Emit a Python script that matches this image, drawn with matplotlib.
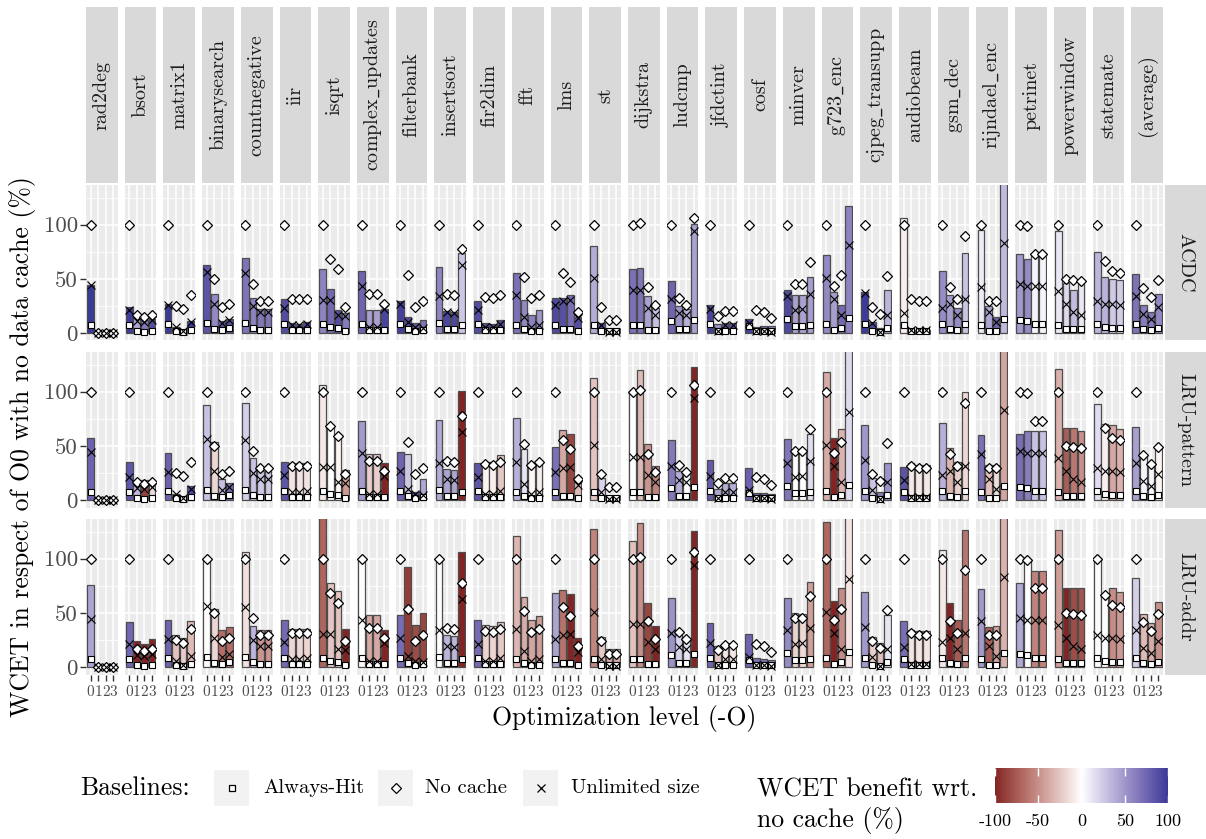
import numpy as np
import matplotlib
matplotlib.use("Agg")
import matplotlib.pyplot as plt
from matplotlib.colors import ListedColormap, Normalize, to_rgb
from matplotlib.patches import Rectangle
from matplotlib.cm import ScalarMappable

plt.rcParams['font.family'] = ['cmr10', 'DejaVu Serif']
plt.rcParams['axes.unicode_minus'] = False
plt.rcParams['mathtext.fontset'] = 'cm'

benchmarks = ['rad2deg', 'bsort', 'matrix1', 'binarysearch', 'countnegative', 'iir',
              'isqrt', 'complex_updates', 'filterbank', 'insertsort', 'fir2dim', 'fft',
              'lms', 'st', 'dijkstra', 'ludcmp', 'jfdctint', 'cosf', 'minver', 'g723_enc',
              'cjpeg_transupp', 'audiobeam', 'gsm_dec', 'rijndael_enc', 'petrinet',
              'powerwindow', 'statemate']
levels = ['0', '1', '2', '3']
policies = ['ACDC', 'LRU-pattern', 'LRU-addr']

# WCET in % of the O0 no-cache WCET, one row per benchmark, columns O0..O3
no_cache = np.array([
    [100, 0.8, 0.8, 0.8], [100, 17, 14.8, 17], [100, 25, 22.4, 35.2],
    [100, 49.7, 24.6, 27.2], [100, 45, 29.5, 29.5], [100, 31.3, 31.3, 31.3],
    [100, 68.2, 59.3, 24.3], [100, 36, 36, 27], [100, 53.7, 24, 29.4],
    [100, 36, 35, 77.7], [100, 33.5, 33, 35.4], [100, 51.7, 33, 35.2],
    [100, 55.2, 47.3, 20], [100, 24, 12.6, 12.6], [100, 101.5, 43, 26.5],
    [100, 32.3, 26.2, 106.5], [100, 16.3, 21, 21], [100, 21.2, 19.4, 14],
    [100, 45.8, 45.5, 65.8], [100, 43.7, 53.6, 170], [100, 24.4, 18, 52.5],
    [100, 31.5, 30, 30], [100, 42.7, 31.9, 90], [100, 29.8, 29.8, 178],
    [100, 99.1, 72.8, 72.8], [100, 50, 49, 48.2], [100, 66.9, 57.6, 55.7]])

unlimited = np.array([
    [44.5, 0.6, 0.6, 0.6], [22, 11, 10.5, 12.5], [26.5, 6.2, 2, 10.8],
    [56.2, 26.7, 9.2, 12], [55.5, 25, 19.5, 19.5], [23, 8, 7.8, 9],
    [31, 31, 17.2, 16], [43.8, 5.6, 5.6, 22.5], [27, 10.8, 6, 4.8],
    [34.2, 19.5, 18.5, 63], [21.7, 6, 6, 9], [35, 14.8, 6.2, 7.6],
    [26.3, 29.6, 31, 14.3], [51, 7.7, 1.5, 1.5], [40.4, 40, 23.5, 16.6],
    [31.7, 18.6, 17, 94.3], [22.4, 2, 8, 8], [9.7, 2.5, 2.5, 1.3],
    [34.5, 22, 22.3, 36.2], [51, 32.1, 16.6, 81], [37.5, 9.3, 1.5, 16.9],
    [18.7, 2.8, 2.8, 2.8], [23, 26.8, 16.7, 31.3], [43, 19.5, 10.5, 83.3],
    [45, 43.7, 43.7, 43.7], [39, 27.2, 20, 16.8], [29.6, 26.8, 27.5, 26.4]])

always_hit = np.array([
    [8, 0.4, 0.4, 0.4], [8, 2, 1.5, 2], [8.3, 2, 1.3, 3], [9.5, 4, 2.7, 4.8],
    [9.8, 5.2, 3, 3], [8.8, 3, 3, 3], [8.6, 6, 5.2, 2.5], [8.6, 3, 3, 3.3],
    [8.3, 4.3, 1.8, 3], [10, 3.8, 3.8, 7.8], [8.6, 3.3, 3, 3], [7.9, 4, 2.5, 2.5],
    [8.2, 4.5, 3.8, 1.8], [7.7, 2.5, 1.8, 1.8], [7.8, 7.8, 3.3, 2.8],
    [11.5, 4.3, 4, 12], [8.5, 1.8, 1.8, 1.8], [6.6, 1.8, 1.8, 1.8],
    [13, 6.8, 6.8, 7.8], [8.4, 3.6, 4.7, 14], [8.4, 2, 1, 4.8], [7.9, 2, 2, 2],
    [8.9, 3.8, 3, 8.3], [7.8, 2.5, 2.3, 13.3], [12, 11.2, 8.5, 8.5],
    [7.9, 3.8, 3.8, 3.8], [8.5, 5.5, 4.8, 4.8]])

wcet_acdc = np.array([
    [44.5, 0.8, 0.8, 0.8], [24, 14.5, 12, 13], [27, 6, 3, 11], [63, 36.7, 11.4, 13.6],
    [69.8, 33, 22.8, 22.8], [31.5, 9.6, 9, 10.5], [59, 40.7, 22, 19],
    [57.4, 22, 22, 22.8], [30, 15, 9.6, 12.7], [61.4, 20.7, 19.8, 73.8],
    [30, 9.6, 9, 12], [55.2, 30.6, 16.7, 21.3], [33, 33, 35.8, 15],
    [80.6, 9.6, 3.7, 3.7], [59, 60, 34.3, 23.5], [48.5, 25.3, 22.8, 101],
    [26.5, 9, 10, 10], [13.6, 6, 6.8, 6.8], [40.4, 35.2, 35.2, 52],
    [72.2, 38.3, 26.5, 117], [38.3, 10.5, 5, 39.8], [106, 3, 3, 3],
    [57.4, 35.2, 23.5, 73.8], [94.8, 25.3, 15, 147], [73, 68.2, 71.3, 71.3],
    [93.8, 46, 39.8, 45], [75.3, 52.2, 50, 49]])

wcet_lru_pattern = np.array([
    [57.5, 0.8, 0.8, 0.8], [35, 15, 18.5, 17.7], [43.5, 5.6, 3, 13],
    [87.6, 53.7, 20, 16], [90, 39.4, 27, 27], [35.7, 34, 34, 34],
    [106.5, 68.3, 61.2, 28], [73, 42.5, 42.5, 34], [44.4, 42.5, 7.8, 19.3],
    [73.6, 28.9, 28, 101], [34, 35, 35, 42], [76, 47.2, 34, 37.3],
    [48.8, 65.2, 61.2, 21.7], [112.7, 20.8, 4, 4], [100, 120, 52.2, 32],
    [55.3, 27, 26.4, 122.7], [37.3, 10.2, 16.1, 16.1], [30, 7, 6.8, 5.6],
    [56.5, 45.7, 45.7, 61.2], [118, 57.5, 65.8, 155], [69, 20.2, 7.8, 34],
    [31, 34, 32.6, 32.6], [71.4, 48, 35, 100], [60.6, 32.6, 32.6, 215],
    [61.2, 64.3, 64.3, 64.3], [121, 66.8, 66.8, 63.7], [88.5, 70, 69.3, 65.8]])

wcet_lru_addr = np.array([
    [75.8, 0.8, 0.8, 0.8], [41.6, 23.9, 21.4, 26.4], [44, 30, 27, 42.5],
    [100.6, 54, 34.8, 37.3], [106, 38, 34.2, 34.2], [44, 35.4, 35.4, 35.4],
    [148, 77.6, 70.2, 35.4], [100.6, 47.8, 47.8, 34.2], [47.8, 92.2, 38.8, 50.3],
    [100, 30.1, 29.2, 106], [43.5, 38.8, 37.9, 41.6], [121, 65, 43.5, 47.2],
    [68, 71.4, 67.4, 27], [127, 28, 16.8, 16.8], [116, 132.6, 59.6, 37.9],
    [64.3, 29.5, 25, 125.8], [41, 19.9, 22.4, 22.4], [31, 8.4, 7.8, 6.8],
    [63.4, 50.3, 49.4, 78.3], [134, 61, 72.7, 180], [69.6, 27.6, 22.4, 48.1],
    [42.5, 34.8, 33.2, 33.2], [107.8, 59.6, 43.2, 126.4], [72, 37.3, 37.9, 210],
    [77.6, 99.4, 89, 89], [126.4, 72.7, 72.7, 72.7], [98.4, 67.4, 73, 69]])


def benefit(wcet):
    # share of the unlimited-cache gain over no cache that is reached
    span = no_cache - unlimited
    b = np.where(np.abs(span) > 1e-9, 100 * (no_cache - wcet) / np.where(span == 0, 1, span), 0)
    return np.clip(b, -100, 100)


# diverging fill as in ggplot's gradient2 (muted red / white / muted blue, Lab space)
M_RGB = np.array([[0.4124, 0.3576, 0.1805], [0.2126, 0.7152, 0.0722], [0.0193, 0.1192, 0.9505]])
WHITE = np.array([0.95047, 1.0, 1.08883])


def to_lab(col):
    rgb = np.array(to_rgb(col))
    lin = np.where(rgb <= 0.04045, rgb / 12.92, ((rgb + 0.055) / 1.055) ** 2.4)
    xyz = M_RGB @ lin / WHITE
    f = np.where(xyz > 0.008856, np.cbrt(xyz), 7.787 * xyz + 16 / 116)
    return np.array([116 * f[1] - 16, 500 * (f[0] - f[1]), 200 * (f[1] - f[2])])


def from_lab(lab):
    fy = (lab[:, 0] + 16) / 116
    f = np.stack([fy + lab[:, 1] / 500, fy, fy - lab[:, 2] / 200], axis=1)
    xyz = np.where(f ** 3 > 0.008856, f ** 3, (f - 16 / 116) / 7.787) * WHITE
    lin = np.clip(xyz @ np.linalg.inv(M_RGB).T, 0, 1)
    return np.where(lin <= 0.0031308, 12.92 * lin, 1.055 * lin ** (1 / 2.4) - 0.055)


low, mid, high = to_lab('#832424'), to_lab('#FFFFFF'), to_lab('#3A3A98')
t = np.linspace(0, 1, 256)[:, None]
lab = np.where(t < 0.5, low + (mid - low) * (t / 0.5), mid + (high - mid) * ((t - 0.5) / 0.5))
cmap = ListedColormap(np.clip(from_lab(lab), 0, 1))
norm = Normalize(-100, 100)

panel_names = benchmarks + ['(average)']


def with_average(a):
    return np.vstack([a, a.mean(axis=0)])


def strip_label(name):
    # cmr10 has no plain underscore, so take that one glyph from the typewriter face
    if '_' not in name:
        return name
    parts = [r'\mathrm{%s}' % p for p in name.split('_')]
    return '$' + r'\mathtt{\_}'.join(parts) + '$'


nc_all = with_average(no_cache)
unl_all = with_average(unlimited)
ah_all = with_average(always_hit)
wcet_rows = [with_average(w) for w in (wcet_acdc, wcet_lru_pattern, wcet_lru_addr)]
benefit_rows = [with_average(benefit(w)) for w in (wcet_acdc, wcet_lru_pattern, wcet_lru_addr)]

# figure layout in pixels
W, H = 1206.0, 839.0
fig = plt.figure(figsize=(W / 100, H / 100), dpi=100)
ncol = len(panel_names)
x0, x1, gap_x = 86.0, 1163.0, 7.0
pw = (x1 - x0 - gap_x * (ncol - 1)) / ncol
row_top = [185.0, 352.0, 519.0]
ph = 155.5


def fig_rect(x, y, w, h):
    return [x / W, 1 - (y + h) / H, w / W, h / H]


def strip(x, y, w, h, text, rot):
    fig.add_artist(Rectangle((x / W, 1 - (y + h) / H), w / W, h / H,
                             transform=fig.transFigure, facecolor='#D9D9D9', edgecolor='none'))
    fig.text((x + w / 2) / W, 1 - (y + h / 2) / H, text, rotation=rot, ha='center',
             va='center', fontsize=14.5, color='#1A1A1A')


xs = np.arange(1, 5)
for r, policy in enumerate(policies):
    wcet = wcet_rows[r]
    fills = cmap(norm(benefit_rows[r]))
    for c, name in enumerate(panel_names):
        px = x0 + c * (pw + gap_x)
        ax = fig.add_axes(fig_rect(px, row_top[r], pw, ph))
        ax.set_facecolor('#EBEBEB')
        ax.bar(xs, wcet[c], width=0.9, color=fills[c], edgecolor='#4D4D4D',
               linewidth=0.9, zorder=2)
        ax.plot(xs, ah_all[c], ls='none', marker='s', ms=4.2, mfc='white', mec='black',
                mew=0.8, zorder=3)
        ax.plot(xs, nc_all[c], ls='none', marker='D', ms=5.3, mfc='white', mec='black',
                mew=0.9, zorder=4)
        ax.plot(xs, unl_all[c], ls='none', marker='x', ms=6, mec='black', mew=0.8, zorder=5)
        ax.set_xlim(0.4, 4.6)
        ax.set_ylim(-6.5, 136.5)
        ax.set_xticks(xs)
        ax.set_yticks([0, 50, 100])
        ax.set_yticks([25, 75, 125], minor=True)
        ax.set_axisbelow(True)
        ax.grid(which='major', color='white', linewidth=1.1)
        ax.grid(which='minor', axis='y', color='white', linewidth=0.55)
        for s in ax.spines.values():
            s.set_visible(False)
        ax.tick_params(which='both', length=0, labelleft=False, labelbottom=False)
        if c == 0:
            ax.tick_params(axis='y', which='major', length=4, width=1, color='#333333',
                           labelleft=True, labelsize=16.5, labelcolor='#4D4D4D', pad=2)
        if r == len(policies) - 1:
            ax.set_xticklabels(levels)
            ax.tick_params(axis='x', which='major', length=4.5, width=1, color='#333333',
                           labelbottom=True, labelsize=11, labelcolor='#4D4D4D', pad=3.5)
        if r == 0:
            strip(px, 7, pw, 176, strip_label(name), 90)
    strip(1165, row_top[r], 41, ph, policy, -90)

fig.text(23 / W, 1 - 447 / H, 'WCET in respect of O0 with no data cache (%)', rotation=90,
         ha='center', va='center', fontsize=18.5)
fig.text(624 / W, 1 - 718 / H, 'Optimization level (-O)', ha='center', va='center',
         fontsize=18.5)

# legend for the baseline markers
lax = fig.add_axes([0, 0, 1, 1])
lax.set_xlim(0, W)
lax.set_ylim(H, 0)
lax.axis('off')
lax.text(80, 788, 'Baselines:', ha='left', va='center', fontsize=18.5)
legend_items = [('s', 4.2, 'Always-Hit', 214, 263), ('D', 5, 'No cache', 378, 425),
                ('x', 5.5, 'Unlimited size', 523, 571)]
for marker, size, label, kx, tx in legend_items:
    lax.add_patch(Rectangle((kx, 770), 35, 36, facecolor='#F2F2F2', edgecolor='none'))
    if marker == 'x':
        lax.plot(kx + 17.5, 788, ls='none', marker='x', ms=size, mec='black', mew=0.9)
    else:
        lax.plot(kx + 17.5, 788, ls='none', marker=marker, ms=size, mfc='white', mec='black',
                 mew=0.9)
    lax.text(tx, 788, label, ha='left', va='center', fontsize=14.8)

lax.text(757, 790, 'WCET benefit wrt.', ha='left', va='center', fontsize=18.5)
lax.text(757, 820, 'no cache (%)', ha='left', va='center', fontsize=18.5)

cax = fig.add_axes(fig_rect(995, 768, 173, 35))
cb = fig.colorbar(ScalarMappable(norm=norm, cmap=cmap), cax=cax, orientation='horizontal',
                  ticks=[-100, -50, 0, 50, 100])
cb.outline.set_visible(False)
cax.tick_params(axis='x', direction='in', length=6, width=1, color='white', top=True,
                labelsize=13, pad=8)

fig.savefig('out.png', dpi=100)
